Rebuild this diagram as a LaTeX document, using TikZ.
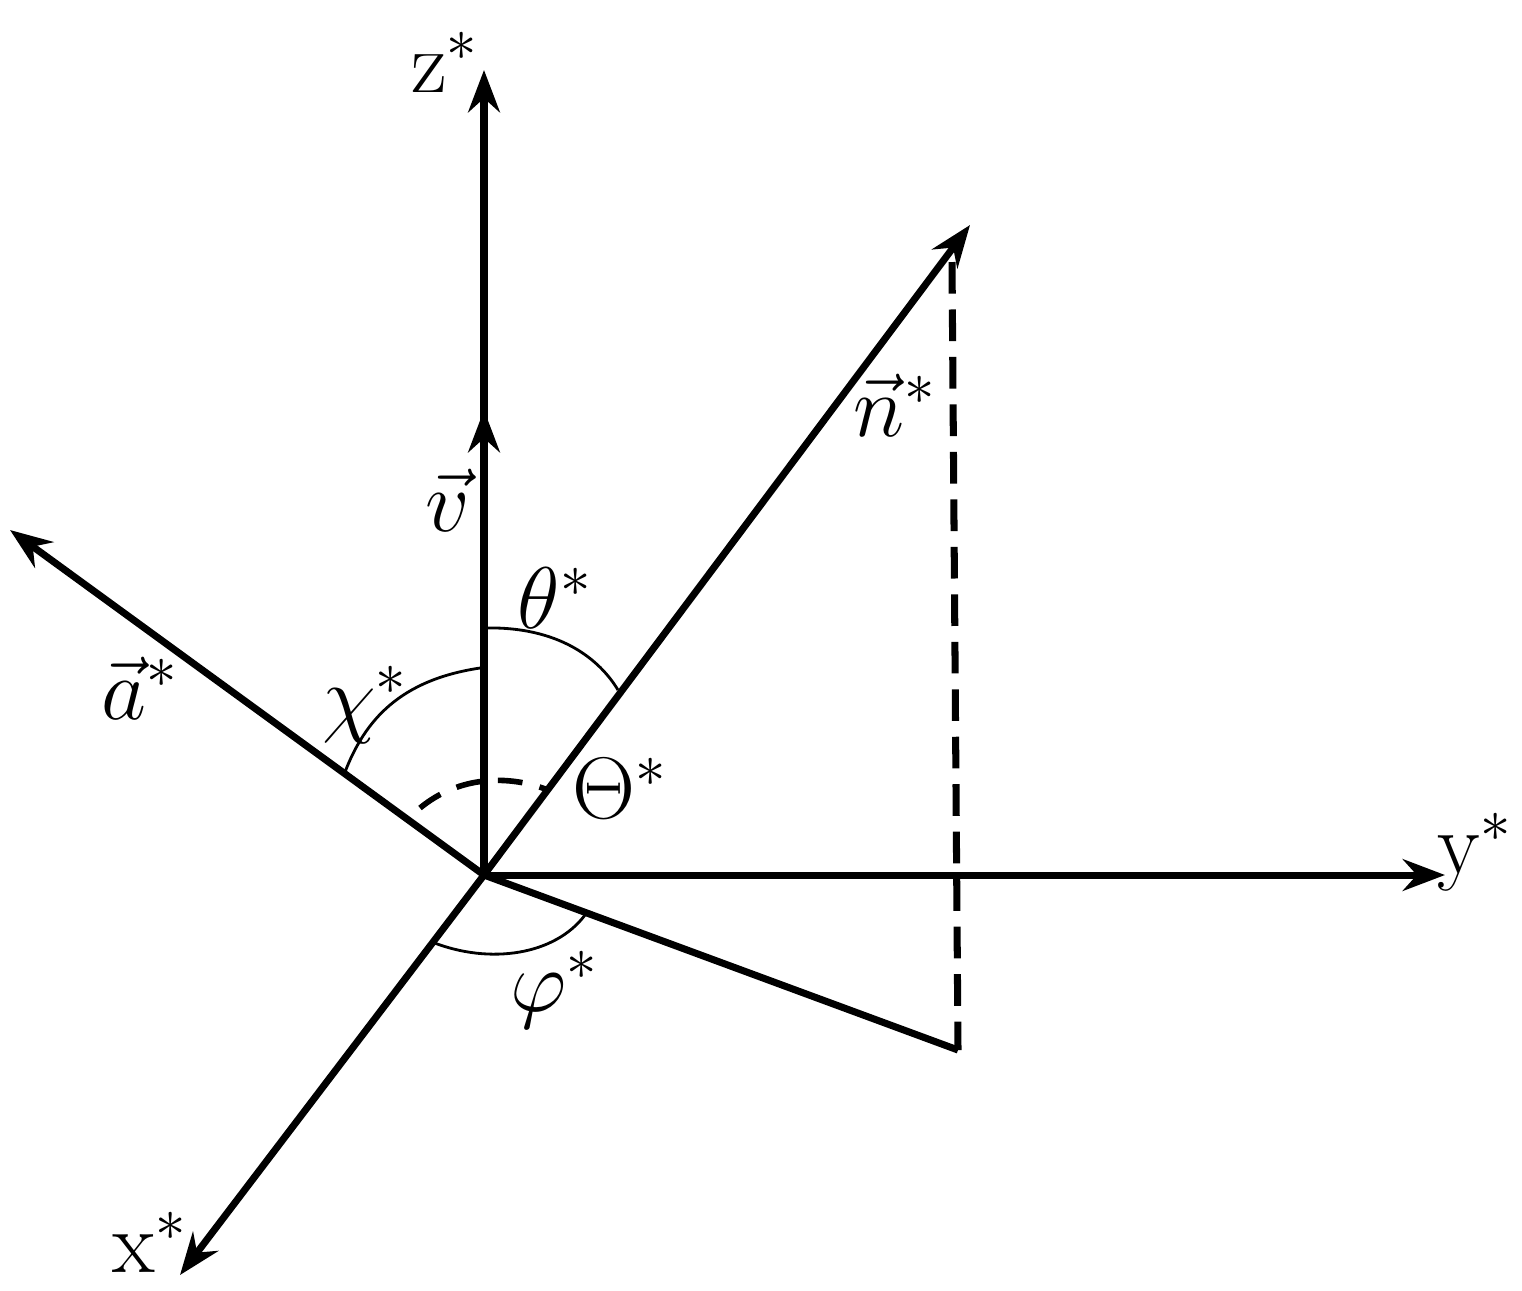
\documentclass[tikz,border=0pt]{standalone}
\usetikzlibrary{arrows.meta}
\begin{document}
\begin{tikzpicture}[x=0.01cm,y=-0.01cm,
 ax/.style={line width=2pt,-{Stealth[length=12pt,width=9pt,inset=4pt]}},
 ln/.style={line width=2pt},
 arc/.style={line width=0.8pt},
 lab/.style={font=\fontsize{25}{30}\selectfont,inner sep=0pt}]
\useasboundingbox (0,0) rectangle (1522,1290);
\coordinate (O) at (484,875);
\coordinate (Z) at (484,70);
\coordinate (V) at (484,410);
\coordinate (N) at (970,225);
\coordinate (A) at (10,530);
\coordinate (Y) at (1445,875);
\coordinate (X) at (180,1275);
\coordinate (P) at (958,1050);
\coordinate (Q) at (952,262);
\draw[ax] (O) -- (Z);
\draw[ax] (O) -- (V);
\draw[ax] (O) -- (N);
\draw[ax] (O) -- (A);
\draw[ax] (O) -- (Y);
\draw[ax] (O) -- (X);
\draw[ln] (O) -- (P);
\draw[ln,dash pattern=on 9pt off 4.5pt] (Q) -- (P);
\draw[arc] (484,628) .. controls (560,626) and (600,660) .. (618,690);
\draw[arc] (480,668) .. controls (400,680) and (365,720) .. (345,772);
\draw[line width=1.6pt,dash pattern=on 7pt off 5pt] (420,808) .. controls (460,775) and (510,775) .. (548,790);
\draw[arc] (432,942) .. controls (490,965) and (555,955) .. (585,915);
\node[lab] (lz) at (445,62) {z$^*$};
\node[lab] (lv) at (448,500) {$\vec{v}$};
\node[lab] (ln) at (895,405) {$\vec{n}^*$};
\node[lab] (la) at (140,688) {$\vec{a}^*$};
\node[lab] (lt) at (555,598) {$\theta^*$};
\node[lab] (lc) at (365,705) {$\chi^*$};
\node[lab] (lT) at (620,788) {$\Theta^*$};
\node[lab] (ly) at (1475,852) {y$^*$};
\node[lab] (lx) at (150,1242) {x$^*$};
\node[lab] (lp) at (555,990) {$\varphi^*$};
\end{tikzpicture}
\end{document}
